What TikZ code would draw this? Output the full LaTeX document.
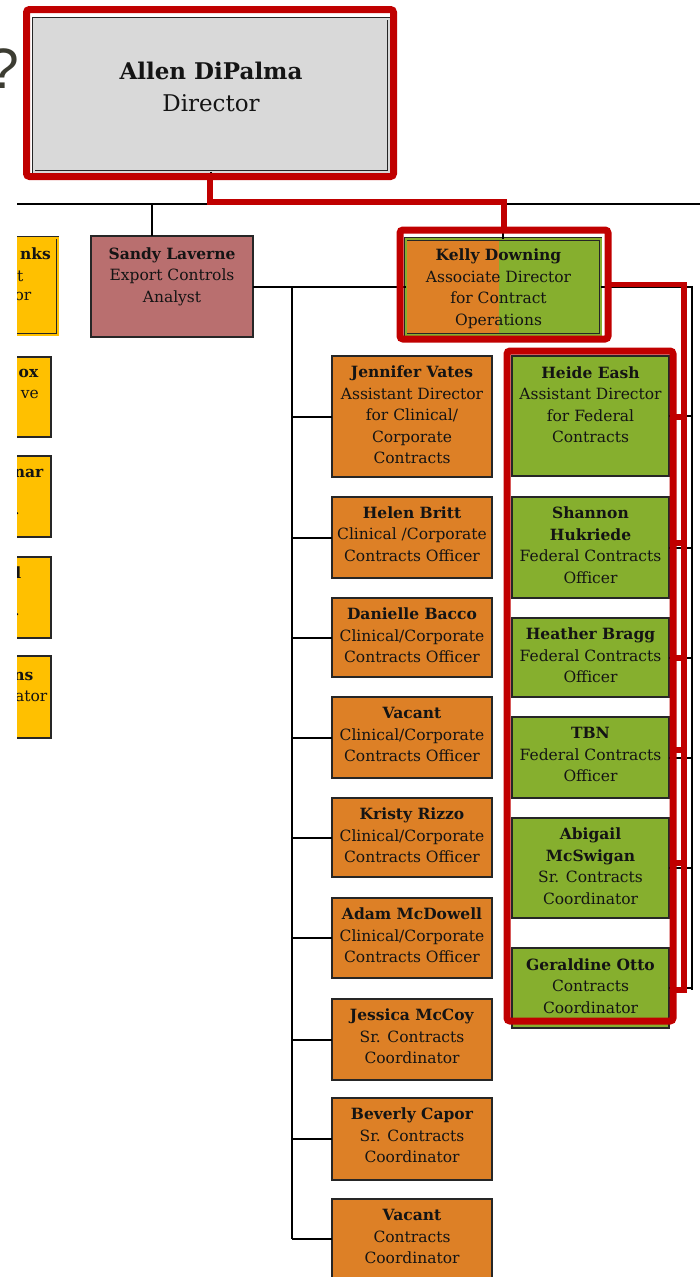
\documentclass[tikz,border=0pt]{standalone}
\usepackage{fontspec}
\setmainfont{DejaVu Serif}
\newfontfamily\qfont{Liberation Sans}
\definecolor{cred}{RGB}{192,0,0}
\definecolor{corange}{RGB}{221,128,38}
\definecolor{cgreen}{RGB}{134,175,46}
\definecolor{cyellow}{RGB}{255,192,0}
\definecolor{crose}{RGB}{185,111,111}
\definecolor{cgrey}{RGB}{217,217,217}
\definecolor{bcol}{RGB}{38,38,38}
\definecolor{tcol}{RGB}{20,20,20}
\definecolor{qcol}{RGB}{60,60,50}
\begin{document}
\begin{tikzpicture}[x=1pt,y=-1pt,
  box/.style={draw=bcol, line width=1.1pt, rectangle, inner sep=0pt, outer sep=0pt},
  obox/.style={box, fill=corange, minimum width=160pt},
  gbox/.style={box, fill=cgreen, minimum width=157pt},
  ybox/.style={box, fill=cyellow, minimum width=120pt},
  dbl/.style={draw=bcol, line width=0.8pt, double=#1, double distance=2pt},
  txt/.style={font=\fontsize{15.5}{21.5}\selectfont, align=center, inner sep=0pt, anchor=north, text=tcol},
  frag/.style={font=\fontsize{15.5}{21.5}\selectfont, inner sep=0pt, anchor=base east, text=tcol},
  redframe/.style={draw=cred, line width=7pt, rounded corners=3pt, rectangle, inner sep=0pt, outer sep=0pt},
  redline/.style={draw=cred, line width=5.5pt},
  conn/.style={draw=black, line width=2pt}]
\useasboundingbox (0,0) rectangle (700,1277);
\clip (0,0) rectangle (700,1277);

% question mark (cut at the left edge, as in the reference)
\node[font=\qfont\fontsize{57}{60}\selectfont, text=qcol, anchor=base east, inner sep=0pt] (q) at (19,88) {?};

% coordinates
\coordinate (hl) at (17,203.5);
\coordinate (hr) at (700,203.5);
\coordinate (tr) at (292,1239);
\coordinate (rv) at (692,990);
\coordinate (rm) at (0,202);
\coordinate (rb) at (684,990);

% director
\node[box, dbl=cgrey, fill=cgrey, minimum width=355pt, minimum height=153pt] (dir) at (211,95) {};
\node[font=\fontsize{23}{32}\selectfont, align=center, inner sep=0pt, anchor=north, text=tcol] (dirt) at ([yshift=-38pt]dir.north) {\strut\textbf{Allen DiPalma}\\Director};

% main horizontal line
\draw[conn] (hl) -- (hr);
\draw[conn] (dir.south) -- (dir.south |- hl);

% Sandy
\node[box, fill=crose, minimum width=162pt, minimum height=101pt] (sandy) at (172,286.5) {};
\node[txt] (sandyt) at ([yshift=-8pt]sandy.north) {\strut\textbf{Sandy Laverne}\\Export Controls\\Analyst};
\draw[conn] ([xshift=-20pt]sandy.north) -- ([xshift=-20pt]sandy.north |- hl);

% Kelly
\node[box, dbl=cgreen, fill=corange, minimum width=195pt, minimum height=96.5pt,
  path picture={\fill[cgreen] ([xshift=-4pt]path picture bounding box.north) rectangle (path picture bounding box.south east);}] (kelly) at (503,287) {};
\node[txt] (kellyt) at ([xshift=-4.5pt,yshift=-6.5pt]kelly.north) {\strut\textbf{Kelly Downing}\\Associate Director\\for Contract\\Operations};
\draw[conn] (kelly.north) -- (kelly.north |- hl);
\draw[conn] (sandy.east) -- (sandy.east -| kelly.west);
\draw[conn] (kelly.east) -- (kelly.east -| rv) -- (rv);

% trunk
\draw[conn] (sandy.east -| tr) -- (tr);

% orange column
\node[obox, minimum height=121pt] (o1) at (412,416.5) {};
\node[txt] (o1t) at ([yshift=-6.5pt]o1.north) {\strut\textbf{Jennifer Vates}\\Assistant Director\\for Clinical/\\Corporate\\Contracts};
\node[obox, minimum height=81pt] (o2) at (412,537.5) {};
\node[txt] (o2t) at ([yshift=-6pt]o2.north) {\strut\textbf{Helen Britt}\\Clinical /Corporate\\Contracts Officer};
\node[obox, minimum height=79pt] (o3) at (412,637.5) {};
\node[txt] (o3t) at ([yshift=-6.5pt]o3.north) {\strut\textbf{Danielle Bacco}\\Clinical/Corporate\\Contracts Officer};
\node[obox, minimum height=81pt] (o4) at (412,737.5) {};
\node[txt] (o4t) at ([yshift=-6.5pt]o4.north) {\strut\textbf{Vacant}\\Clinical/Corporate\\Contracts Officer};
\node[obox, minimum height=79pt] (o5) at (412,837.5) {};
\node[txt] (o5t) at ([yshift=-6.5pt]o5.north) {\strut\textbf{Kristy Rizzo}\\Clinical/Corporate\\Contracts Officer};
\node[obox, minimum height=80pt] (o6) at (412,938) {};
\node[txt] (o6t) at ([yshift=-6.5pt]o6.north) {\strut\textbf{Adam McDowell}\\Clinical/Corporate\\Contracts Officer};
\node[obox, minimum height=81pt] (o7) at (412,1039.5) {};
\node[txt] (o7t) at ([yshift=-6.5pt]o7.north) {\strut\textbf{Jessica McCoy}\\Sr. Contracts\\Coordinator};
\node[obox, minimum height=82pt] (o8) at (412,1139) {};
\node[txt] (o8t) at ([yshift=-6.5pt]o8.north) {\strut\textbf{Beverly Capor}\\Sr. Contracts\\Coordinator};
\node[obox, minimum height=80pt] (o9) at (412,1239) {};
\node[txt] (o9t) at ([yshift=-6.5pt]o9.north) {\strut\textbf{Vacant}\\Contracts\\Coordinator};
\foreach \n in {o1,o2,o3,o4,o5,o6,o7,o8,o9}{
  \draw[conn] (\n.west -| tr) -- (\n.west);
}

% green column
\node[gbox, minimum height=120pt] (g1) at (590.5,416) {};
\node[txt] (g1t) at ([yshift=-7pt]g1.north) {\strut\textbf{Heide Eash}\\Assistant Director\\for Federal\\Contracts};
\node[gbox, minimum height=101pt] (g2) at (590.5,547.5) {};
\node[txt] (g2t) at ([yshift=-6.5pt]g2.north) {\strut\textbf{Shannon}\\\textbf{Hukriede}\\Federal Contracts\\Officer};
\node[gbox, minimum height=79pt] (g3) at (590.5,657.5) {};
\node[txt] (g3t) at ([yshift=-6.5pt]g3.north) {\strut\textbf{Heather Bragg}\\Federal Contracts\\Officer};
\node[gbox, minimum height=81pt] (g4) at (590.5,757.5) {};
\node[txt] (g4t) at ([yshift=-6.5pt]g4.north) {\strut\textbf{TBN}\\Federal Contracts\\Officer};
\node[gbox, minimum height=100pt] (g5) at (590.5,868) {};
\node[txt] (g5t) at ([yshift=-6.5pt]g5.north) {\strut\textbf{Abigail}\\\textbf{McSwigan}\\Sr. Contracts\\Coordinator};
\node[gbox, minimum height=80pt] (g6) at (590.5,988) {};
\node[txt] (g6t) at ([yshift=-7pt]g6.north) {\strut\textbf{Geraldine Otto}\\Contracts\\Coordinator};
\foreach \n in {g1,g2,g3,g4,g5,g6}{
  \draw[conn] (\n.east) -- (\n.east -| rv);
}

% left yellow boxes (cut off)
\begin{scope}
\clip (17,225) rectangle (100,750);
\node[box, dbl=cyellow, fill=cyellow, minimum width=120pt, minimum height=97pt] (y1) at (-2.5,286) {};
\node[ybox, minimum height=80pt] (y2) at (-9,397) {};
\node[ybox, minimum height=81pt] (y3) at (-9,496.5) {};
\node[ybox, minimum height=81pt] (y4) at (-9,597.5) {};
\node[ybox, minimum height=82pt] (y5) at (-9,697) {};
\node[frag, font=\fontsize{15.5}{21.5}\selectfont\bfseries] (y1a) at (51,259) {nks};
\node[frag] (y1b) at (23.5,281) {t};
\node[frag] (y1c) at (31.5,300) {or};
\node[frag, font=\fontsize{15.5}{21.5}\selectfont\bfseries] (y2a) at (38.5,377.5) {ox};
\node[frag] (y2b) at (39,398.5) {ve};
\node[frag, font=\fontsize{15.5}{21.5}\selectfont\bfseries] (y3a) at (43.5,477.5) {nar};
\node[frag] (y3b) at (20,514) {.};
\node[frag, font=\fontsize{15.5}{21.5}\selectfont\bfseries] (y4a) at (21.5,578) {l};
\node[frag] (y4b) at (20,615) {.};
\node[frag, font=\fontsize{15.5}{21.5}\selectfont\bfseries] (y5a) at (33.5,680) {ns};
\node[frag] (y5b) at (47.5,701) {ator};
\end{scope}

% red highlight overlays
\node[redframe, minimum width=367pt, minimum height=167pt] (dirR) at (210,93) {};
\node[redframe, minimum width=208pt, minimum height=109pt] (kR) at (504,284.5) {};
\node[redframe, minimum width=166pt, minimum height=670pt] (gR) at (590,686) {};
\draw[redline] (dirR.south) -- (dirR.south |- rm) -- (kR.north |- rm) -- (kR.north);
\draw[redline] (kR.east) -- (kR.east -| rb) -- (rb) -- (rb -| gR.east);
\coordinate (t1) at (684,417);
\coordinate (t2) at (684,543);
\coordinate (t3) at (684,658);
\coordinate (t4) at (684,750);
\coordinate (t5) at (684,863);
\foreach \t in {t1,t2,t3,t4,t5}{
  \draw[redline] (\t) -- (\t -| gR.east);
}
\end{tikzpicture}
\end{document}
